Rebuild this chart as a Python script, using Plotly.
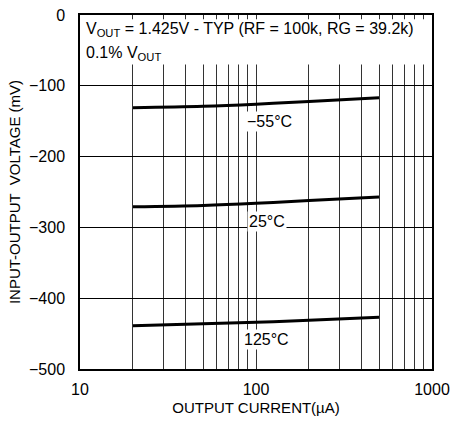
import numpy as np
import plotly.graph_objects as go

current_ua = [20, 50, 100, 200, 500]
v_m55 = [-131, -129, -126, -122, -117]
v_25 = [-271, -269, -266, -262, -257]
v_125 = [-439, -436, -434, -431, -427]

series_names = ["−55°C", "25°C", "125°C"]
label_x = [119, 115, 115]
label_y = [-151, -292, -459]

x_ticks = [10, 100, 1000]
x_minor = [20, 30, 40, 50, 60, 70, 80, 90, 100, 200, 300, 400, 500, 600, 700, 800, 900]
y_ticks = [0, -100, -200, -300, -400, -500]

FONT = "Liberation Sans, Arial, sans-serif"

fig = go.Figure()
for ys, name in zip([v_m55, v_25, v_125], series_names):
    fig.add_trace(go.Scatter(x=current_ua, y=ys, mode="lines", name=name,
                             line=dict(color="black", width=3, shape="spline"), showlegend=False))

for name, lx, ly in zip(series_names, label_x, label_y):
    fig.add_annotation(x=np.log10(lx), y=ly, text=name, showarrow=False,
                       bgcolor="white", font=dict(size=16, color="black", family=FONT))

fig.add_shape(type="rect", xref="paper", yref="y", x0=0.003, x1=0.997, y0=-6, y1=-70,
              fillcolor="white", line=dict(width=0), layer="above")

fig.add_annotation(xref="paper", yref="y", x=0.012, y=-20, xanchor="left", yanchor="middle",
                   text="V<sub>OUT</sub> = 1.425V - TYP (RF = 100k, RG = 39.2k)",
                   showarrow=False, font=dict(size=16, color="black", family=FONT))
fig.add_annotation(xref="paper", yref="y", x=0.012, y=-54, xanchor="left", yanchor="middle",
                   text="0.1% V<sub>OUT</sub>",
                   showarrow=False, font=dict(size=16, color="black", family=FONT))

fig.update_xaxes(type="log", range=[1, 3], tickvals=x_ticks, ticktext=[str(v) for v in x_ticks],
                 showgrid=False, showline=True, linecolor="black", linewidth=1.5, mirror=True,
                 ticks="", zeroline=False, ticklabelstandoff=5, automargin=False,
                 minor=dict(tickvals=x_minor, showgrid=True, gridcolor="#333", gridwidth=1, ticks=""),
                 title=dict(text="OUTPUT CURRENT(µA)", standoff=6, font=dict(size=15, family=FONT)),
                 tickfont=dict(size=16, color="black", family=FONT))
fig.update_yaxes(range=[-500, 0], tickvals=y_ticks, showgrid=True, gridcolor="black", gridwidth=1,
                 showline=True, linecolor="black", linewidth=1.5, mirror=True, ticks="",
                 zeroline=False, ticklabelstandoff=10, automargin=False,
                 title=dict(text="INPUT-OUTPUT  VOLTAGE (mV)", standoff=5, font=dict(size=15, family=FONT)),
                 tickfont=dict(size=16, color="black", family=FONT))

fig.update_layout(width=453, height=421, margin=dict(l=80, r=21, t=15, b=52),
                  plot_bgcolor="white", paper_bgcolor="white",
                  font=dict(family=FONT, size=15, color="black"))

fig.write_html("out.html")
